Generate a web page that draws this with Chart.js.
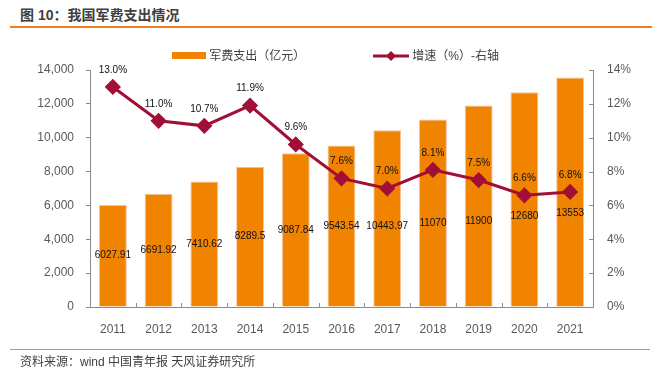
<!DOCTYPE html>
<html>
<head>
  <title>我国军费支出情况</title>
  <script src="https://cdn.jsdelivr.net/npm/chart.js@4"></script>
  <style>
    body {
      margin: 0;
      background: #fff;
      font-family: "Liberation Sans", Arial, "Noto Sans CJK SC", sans-serif;
    }
    .wrap {
      position: relative;
      width: 661px;
      height: 373px;
      overflow: hidden;
    }
    .title {
      position: absolute;
      left: 20px;
      top: 4px;
      font-size: 14px;
      font-weight: bold;
      color: #404040;
      font-family: "Liberation Sans", "Noto Sans CJK SC", sans-serif;
    }
    .title-line {
      position: absolute;
      left: 10px;
      top: 26px;
      width: 642px;
      height: 2px;
      background: #ef7d22;
    }
    .foot-line {
      position: absolute;
      left: 10px;
      top: 349px;
      width: 640px;
      height: 1px;
      background: #ef8a3c;
    }
    .foot {
      position: absolute;
      left: 20px;
      top: 352px;
      font-size: 12px;
      color: #404040;
      font-family: "Liberation Sans", "Noto Sans CJK SC", sans-serif;
    }
    .legend {
      position: absolute;
      top: 46px;
      font-size: 12px;
      color: #404040;
      font-family: "Liberation Sans", "Noto Sans CJK SC", sans-serif;
      line-height: 18px;
    }
    .legend span { vertical-align: middle; }
    canvas { position: absolute; left: 0; top: 0; }
  </style>
</head>
<body>
  <div class="wrap">
    <div class="title">图 10：我国军费支出情况</div>
    <div class="title-line"></div>
    <canvas id="milChart" width="661" height="373"></canvas>
    <div class="legend" style="left:172px">
      <span style="display:inline-block;width:34px;height:7px;background:#f08300"></span>
      <span>军费支出（亿元）</span>
    </div>
    <div class="legend" style="left:373px">
      <svg width="36" height="12" style="vertical-align:middle">
        <line x1="0" y1="6" x2="36" y2="6" stroke="#a20f36" stroke-width="3"/>
        <polygon points="18,1 23,6 18,11 13,6" fill="#a20f36"/>
      </svg>
      <span>增速（%）-右轴</span>
    </div>
    <div class="foot-line"></div>
    <div class="foot">资料来源：wind 中国青年报 天风证券研究所</div>
  </div>
  <script>
    // data
    const years = ['2011', '2012', '2013', '2014', '2015', '2016', '2017', '2018', '2019', '2020', '2021'];
    const spending = [6027.91, 6691.92, 7410.62, 8289.5, 9087.84, 9543.54, 10443.97, 11070, 11900, 12680, 13553];
    const spendingLabels = ['6027.91', '6691.92', '7410.62', '8289.5', '9087.84', '9543.54', '10443.97', '11070', '11900', '12680', '13553'];
    const growth = [13.0, 11.0, 10.7, 11.9, 9.6, 7.6, 7.0, 8.1, 7.5, 6.6, 6.8];

    const orange = '#f08300';
    const crimson = '#a20f36';
    const axisGray = '#8c8c8c';
    const tickText = '#595959';

    // value labels: mid-bar (nudged down where the line runs through) and above line points
    const valueLabels = {
      id: 'valueLabels',
      afterDatasetsDraw(chart, args, opts) {
        const ctx = chart.ctx;
        ctx.save();
        ctx.font = '10px "Liberation Sans", Arial, sans-serif';
        ctx.fillStyle = '#111';
        ctx.textAlign = 'center';
        ctx.textBaseline = 'middle';
        chart.getDatasetMeta(1).data.forEach((bar, i) => {
          const nudge = opts.barNudge[i] || 0;
          ctx.fillText(spendingLabels[i], bar.x, (bar.y + bar.base) / 2 + nudge);
        });
        chart.getDatasetMeta(0).data.forEach((pt, i) => {
          ctx.fillText(growth[i].toFixed(1) + '%', pt.x, pt.y - 17);
        });
        ctx.restore();
      }
    };

    // small inner tick marks on the x axis (between categories) and right axis
    const innerTicks = {
      id: 'innerTicks',
      afterDraw(chart) {
        const ctx = chart.ctx;
        const xs = chart.scales.x;
        const yr = chart.scales.y1;
        const area = chart.chartArea;
        ctx.save();
        ctx.strokeStyle = axisGray;
        ctx.lineWidth = 1;
        ctx.beginPath();
        for (let i = 1; i < years.length; i++) {
          const px = Math.round((xs.getPixelForValue(i - 1) + xs.getPixelForValue(i)) / 2) + 0.5;
          ctx.moveTo(px, area.bottom);
          ctx.lineTo(px, area.bottom - 4);
        }
        yr.ticks.forEach((t) => {
          const py = Math.round(yr.getPixelForValue(t.value)) + 0.5;
          ctx.moveTo(area.right, py);
          ctx.lineTo(area.right - 4, py);
        });
        ctx.stroke();
        ctx.restore();
      }
    };

    const ctx = document.getElementById('milChart').getContext('2d');
    new Chart(ctx, {
      data: {
        labels: years,
        datasets: [
          {
            type: 'line',
            label: '增速（%）-右轴',
            data: growth,
            yAxisID: 'y1',
            borderColor: crimson,
            backgroundColor: crimson,
            borderWidth: 3,
            pointStyle: 'rectRot',
            pointRadius: 6,
            pointHoverRadius: 6,
            pointBackgroundColor: crimson,
            pointBorderColor: crimson,
            tension: 0,
            order: 0
          },
          {
            type: 'bar',
            label: '军费支出（亿元）',
            data: spending,
            yAxisID: 'y',
            backgroundColor: orange,
            borderColor: '#f8c3a0',
            borderWidth: 1,
            barPercentage: 0.61,
            categoryPercentage: 1,
            order: 1
          }
        ]
      },
      options: {
        responsive: false,
        devicePixelRatio: 1,
        animation: false,
        layout: { padding: { top: 70, left: 0, right: 0, bottom: 0 } },
        plugins: {
          legend: { display: false },
          tooltip: { enabled: false },
          valueLabels: { barNudge: [0, 0, 0, 0, 0, 0, 8, 10, 15, 17, 21] }
        },
        scales: {
          x: {
            offset: true,
            grid: { display: false },
            border: { display: true, color: axisGray },
            ticks: {
              color: tickText,
              padding: 7,
              font: { size: 12, family: '"Liberation Sans", Arial, sans-serif' }
            },
            afterFit(scale) { scale.height = 66; }
          },
          y: {
            position: 'left',
            min: 0,
            max: 14000,
            grid: { drawOnChartArea: false, tickLength: 4, color: axisGray },
            border: { display: true, color: axisGray },
            ticks: {
              stepSize: 2000,
              color: tickText,
              padding: 12,
              font: { size: 12, family: '"Liberation Sans", Arial, sans-serif' },
              callback: (v) => v.toLocaleString('en-US')
            },
            afterFit(scale) { scale.width = 90; }
          },
          y1: {
            position: 'right',
            min: 0,
            max: 14,
            grid: { drawOnChartArea: false, drawTicks: false, color: axisGray },
            border: { display: true, color: axisGray },
            ticks: {
              stepSize: 2,
              color: tickText,
              padding: 14,
              font: { size: 12, family: '"Liberation Sans", Arial, sans-serif' },
              callback: (v) => v + '%'
            },
            afterFit(scale) { scale.width = 68; }
          }
        }
      },
      plugins: [valueLabels, innerTicks]
    });
  </script>
</body>
</html>
